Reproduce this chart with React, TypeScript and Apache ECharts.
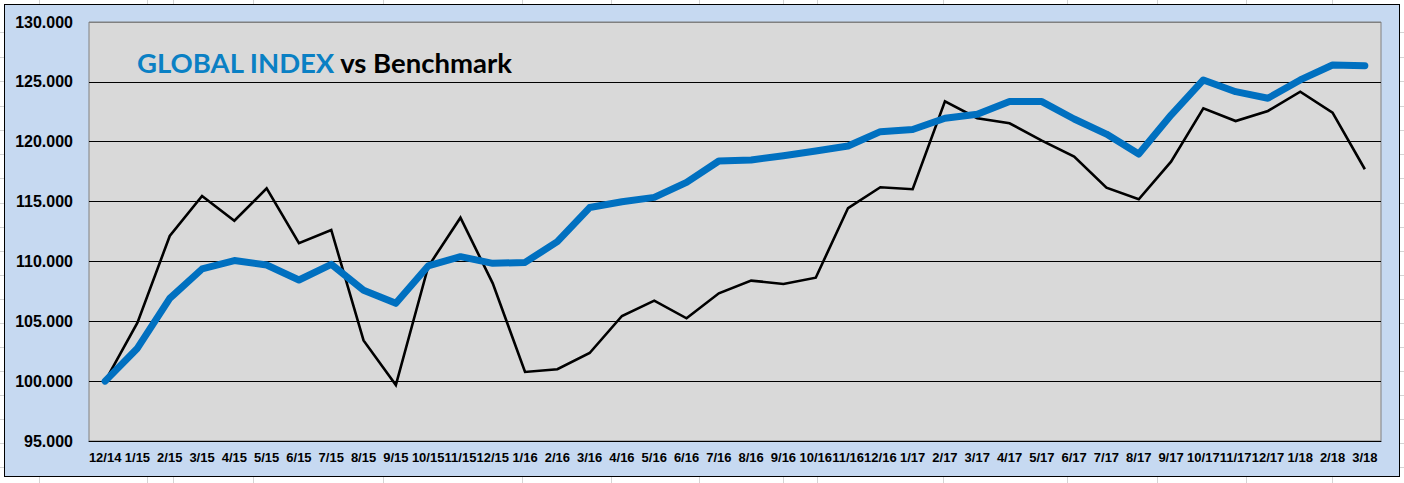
import React, { useEffect, useRef } from "react";
import * as echarts from "echarts";

const categories = [
  "12/14", "1/15", "2/15", "3/15", "4/15", "5/15", "6/15", "7/15", "8/15", "9/15",
  "10/15", "11/15", "12/15", "1/16", "2/16", "3/16", "4/16", "5/16", "6/16", "7/16",
  "8/16", "9/16", "10/16", "11/16", "12/16", "1/17", "2/17", "3/17", "4/17", "5/17",
  "6/17", "7/17", "8/17", "9/17", "10/17", "11/17", "12/17", "1/18", "2/18", "3/18",
];

const globalIndex = [
  100.0, 102.75, 106.92, 109.37, 110.07, 109.7, 108.45, 109.76, 107.6, 106.5,
  109.62, 110.4, 109.84, 109.92, 111.65, 114.5, 114.99, 115.35, 116.6, 118.39,
  118.47, 118.83, 119.22, 119.64, 120.84, 121.02, 121.96, 122.29, 123.35, 123.35,
  121.9, 120.64, 118.97, 122.23, 125.16, 124.18, 123.63, 125.16, 126.41, 126.35,
];

const benchmark = [
  100.0, 104.88, 112.13, 115.47, 113.4, 116.1, 111.52, 112.63, 103.4, 99.67,
  109.56, 113.65, 108.17, 100.77, 101.0, 102.35, 105.44, 106.72, 105.25, 107.34,
  108.4, 108.12, 108.64, 114.46, 116.2, 116.03, 123.38, 121.96, 121.54, 120.09,
  118.75, 116.16, 115.19, 118.33, 122.79, 121.73, 122.57, 124.18, 122.43, 117.7,
];

const yMin = 95;
const yMax = 130;
const yStep = 5;

const titleBlue = "GLOBAL INDEX";
const titleRest = "vs Benchmark";

const sheetCols = [39, 147, 173, 253, 383, 522, 611, 699, 783, 817, 943, 1067, 1157, 1246, 1332];
const sheetRows = [32, 57, 81, 106, 130, 154, 178, 203, 227, 251, 275, 299, 323, 347, 371, 395, 419, 443, 467];

export default function App() {
  const ref = useRef<HTMLDivElement>(null);

  useEffect(() => {
    if (!ref.current) return;
    const chart = echarts.init(ref.current, null, { renderer: "svg" });

    const deco: any[] = [];
    const gl = { stroke: "#d4d4d4", lineWidth: 1 };
    sheetCols.forEach((x) => {
      deco.push({ type: "line", silent: true, shape: { x1: x + 0.5, y1: 0, x2: x + 0.5, y2: 4 }, style: gl });
      deco.push({ type: "line", silent: true, shape: { x1: x + 0.5, y1: 477, x2: x + 0.5, y2: 483 }, style: gl });
    });
    sheetRows.forEach((y) => {
      deco.push({ type: "line", silent: true, shape: { x1: 0, y1: y + 0.5, x2: 4, y2: y + 0.5 }, style: gl });
      deco.push({ type: "line", silent: true, shape: { x1: 1400, y1: y + 0.5, x2: 1404, y2: y + 0.5 }, style: gl });
    });

    chart.setOption({
      animation: false,
      title: {
        text: `{a|${titleBlue}} {b|${titleRest}}`,
        left: 137,
        top: 48,
        padding: 0,
        textStyle: {
          rich: {
            a: { fontFamily: "Lato", fontWeight: "bold", fontSize: 27.5, color: "#0A80C4" },
            b: { fontFamily: "Lato", fontWeight: "bold", fontSize: 27.5, color: "#000000" },
          },
        },
      },
      graphic: deco,
      grid: {
        left: 89,
        top: 22,
        right: 23,
        bottom: 42,
        show: true,
        backgroundColor: "#D9D9D9",
        borderColor: "#808080",
        borderWidth: 1,
        containLabel: false,
      },
      xAxis: {
        type: "category",
        data: categories,
        boundaryGap: true,
        axisTick: { show: false },
        axisLine: { show: true, lineStyle: { color: "#000", width: 1 } },
        axisLabel: {
          interval: 0,
          margin: 10,
          color: "#000",
          fontFamily: "Liberation Sans, Arial, sans-serif",
          fontWeight: "bold",
          fontSize: 13,
        },
        splitLine: { show: false },
      },
      yAxis: {
        type: "value",
        min: yMin,
        max: yMax,
        interval: yStep,
        axisLine: { show: false },
        axisTick: { show: false },
        axisLabel: {
          margin: 16,
          color: "#000",
          fontFamily: "Liberation Sans, Arial, sans-serif",
          fontWeight: "bold",
          fontSize: 16,
          formatter: (v: number) => v.toFixed(3),
        },
        splitLine: {
          show: true,
          lineStyle: {
            color: ["#000", "#000", "#000", "#000", "#000", "#000", "#000", "#808080"],
            width: 1,
          },
        },
      },
      series: [
        {
          name: "Benchmark",
          type: "line",
          data: benchmark,
          symbol: "none",
          lineStyle: { color: "#000000", width: 2.6, join: "miter" },
          z: 3,
        },
        {
          name: "GLOBAL INDEX",
          type: "line",
          data: globalIndex,
          symbol: "none",
          lineStyle: { color: "#0070C0", width: 7, cap: "round", join: "round" },
          z: 4,
        },
      ],
    });

    return () => chart.dispose();
  }, []);

  return (
    <div style={{ position: "absolute", left: 0, top: 0, width: 1404, height: 483, background: "#fff", overflow: "hidden" }}>
      <div
        style={{
          position: "absolute",
          left: 4,
          top: 4,
          width: 1394,
          height: 471,
          background: "#C6D9F1",
          border: "1.5px solid #000",
        }}
      />
      <div ref={ref} style={{ position: "absolute", left: 0, top: 0, width: 1404, height: 483 }} />
    </div>
  );
}
